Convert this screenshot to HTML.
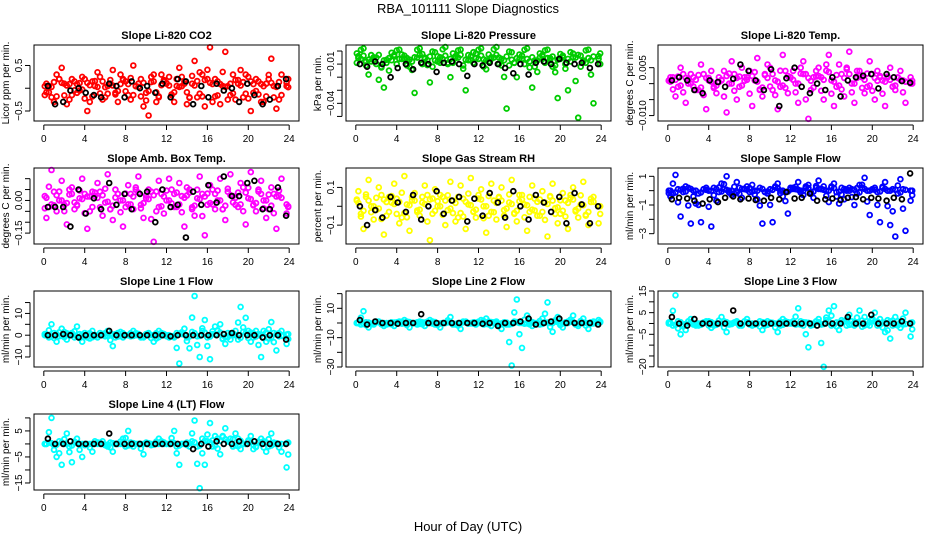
<!DOCTYPE html>
<html><head><meta charset="utf-8"><style>
body{margin:0;background:#fff;}
svg{display:block;font-family:"Liberation Sans",sans-serif;}
</style></head><body>
<svg id="chart" width="936" height="540" viewBox="0 0 936 540">
<text x="468" y="13" text-anchor="middle" font-size="13">RBA_101111  Slope Diagnostics</text>
<text x="468" y="531" text-anchor="middle" font-size="13">Hour of Day (UTC)</text>
</svg>
<script>
const hoursA=[0.25,0.75,1.25,1.75,2.25,2.75,3.25,3.75,4.25,4.75,5.25,5.75,6.25,6.75,7.25,7.75,8.25,8.75,9.25,9.75,10.25,10.75,11.25,11.75,12.25,12.75,13.25,13.75,14.25,14.75,15.25,15.75,16.25,16.75,17.25,17.75,18.25,18.75,19.25,19.75,20.25,20.75,21.25,21.75,22.25,22.75,23.25,23.75];
const hoursC=[0.1,0.5,1.0,1.5,2.0,2.5,3.0,3.5,4.0,4.5,5.0,5.5,6.0,6.5,7.0,7.5,8.0,8.5,9.0,9.5,10.0,10.5,11.0,11.5,12.0,12.5,13.0,13.5,14.0,14.5,15.0,15.5,16.0,16.5,17.0,17.5,18.0,18.5,19.0,19.5,20.0,20.5,21.0,21.5,22.0,22.5,23.0,23.9];
const hoursB=[0.4,1.1,1.9,2.6,3.4,4.1,4.9,5.6,6.4,7.1,7.9,8.6,9.4,10.1,10.9,11.6,12.4,13.1,13.9,14.6,15.4,16.1,16.9,17.6,18.4,19.1,19.9,20.6,21.4,22.1,22.9,23.7];
const xTicks=[0,4,8,12,16,20,24];

const co2Spread=[0.1,-0.2,0.3,0.45,-0.35,0.2,-0.1,0.25,-0.5,0.15,0.35,-0.25,0.05,0.4,-0.3,0.2,-0.15,0.5,0.1,-0.4,-0.6,0.3,-0.2,0.15,0.25,-0.3,0.45,0.1,-0.2,0.6,0.35,-0.4,0.9,0.2,-0.35,0.8,0.1,-0.25,0.4,0.3,-0.5,0.2,-0.3,0.1,0.65,-0.45,0.3,0.05];
const co2Band=[-0.15,0.05,-0.3,0.2,0.1,-0.25,0.15,-0.05,0.2,-0.3,0.05,0.25,-0.2,0.1,-0.1,0.3,0.15,-0.25,0.05,0.2,-0.1,0.25,-0.3,0.3,0.1,-0.15,0.05,0.25,-0.35,0.1,-0.2,0.3,0.2,-0.3,0.15,0.05,-0.25,0.3,0.1,-0.2,0.25,-0.1,0.15,-0.3,0.2,0.05,-0.25,0.2];
const co2Black=[0.05,-0.35,-0.3,-0.05,0,-0.1,-0.15,-0.2,0.1,0.05,-0.2,0.15,0,0.05,-0.1,0.1,-0.2,0.2,0.15,-0.35,0.05,-0.2,0.1,-0.05,0,-0.3,0.1,-0.15,-0.35,-0.25,0.05,0.2];

const presSpread=[-0.004,0.002,-0.018,-0.007,-0.022,-0.028,-0.015,-0.003,0.001,-0.006,-0.012,-0.032,0.002,-0.005,-0.024,-0.001,-0.009,0.003,-0.02,-0.004,0.001,-0.03,-0.007,-0.002,0.002,-0.014,-0.006,0.003,-0.011,-0.044,-0.001,-0.02,-0.006,0.002,-0.028,-0.016,-0.004,0.001,-0.012,-0.036,-0.005,-0.03,-0.002,-0.051,-0.008,0.001,-0.04,-0.004];
const presBand=[-0.009,-0.006,-0.011,-0.008,-0.005,-0.012,-0.009,-0.007,-0.01,-0.006,-0.011,-0.008,-0.005,-0.01,-0.007,-0.012,-0.008,-0.006,-0.01,-0.009,-0.005,-0.011,-0.007,-0.009,-0.006,-0.012,-0.008,-0.005,-0.01,-0.007,-0.011,-0.009,-0.006,-0.01,-0.008,-0.012,-0.005,-0.009,-0.007,-0.011,-0.006,-0.01,-0.008,-0.005,-0.012,-0.009,-0.007,-0.01];
const presBlack=[-0.01,-0.012,-0.008,-0.01,-0.02,-0.013,-0.01,-0.014,-0.009,-0.01,-0.016,-0.009,-0.008,-0.01,-0.019,-0.01,-0.011,-0.009,-0.01,-0.013,-0.017,-0.01,-0.018,-0.009,-0.008,-0.01,-0.006,-0.009,-0.01,-0.009,-0.013,-0.01];

const tempSpread=[0.002,-0.004,0.005,-0.006,0.003,-0.002,0.006,-0.008,0.004,-0.003,0.001,-0.009,0.007,-0.005,0.005,0.002,-0.007,0.008,-0.004,0.006,-0.002,-0.008,0.009,-0.003,0.004,-0.006,0.007,-0.011,0.002,0.005,-0.005,0.009,-0.007,0.006,-0.004,0.01,-0.006,0.004,-0.003,0.007,-0.005,0.002,-0.007,0.005,-0.002,0.004,-0.006,0.002];
const tempBand=[0.001,0.002,-0.001,0.003,0.0,0.002,-0.002,0.003,0.001,-0.001,0.002,0.004,0.0,0.003,-0.001,0.002,0.004,0.001,-0.002,0.003,0.005,0.001,-0.001,0.004,0.002,0.0,0.005,0.003,-0.002,0.004,0.002,0.006,0.001,-0.001,0.003,0.005,0.0,0.004,0.002,-0.001,0.003,0.004,0.001,0.002,-0.001,0.002,0.001,0.0];
const tempBlack=[0.001,0.002,0.001,-0.002,-0.003,0.001,0.0005,-0.001,0.0015,0.006,0.004,0.001,-0.002,0.0045,-0.007,0.0017,0.005,-0.001,-0.003,0.0,-0.002,0.002,-0.004,0.001,0.002,0.0025,0.003,-0.0015,0.003,0.002,0.0008,0.0003];

const boxSpread=[-0.08,0.14,-0.05,0.09,-0.11,0.06,-0.02,0.1,-0.13,0.04,0.08,-0.07,0.12,-0.09,0.03,-0.12,0.07,-0.04,0.11,-0.08,0.05,-0.19,0.09,-0.06,0.1,-0.03,0.08,-0.12,0.05,-0.07,0.11,-0.16,0.07,-0.04,0.1,-0.09,0.12,-0.02,0.08,-0.11,0.13,-0.05,0.09,-0.08,0.06,-0.13,0.1,-0.06];
const boxBand=[0.02,-0.03,0.04,0.0,-0.02,0.05,-0.04,0.01,0.03,-0.05,0.02,0.04,-0.01,-0.04,0.05,0.0,-0.03,0.03,0.06,-0.02,0.01,0.04,-0.05,0.03,0.0,0.05,-0.03,0.02,0.06,-0.04,0.01,0.03,-0.02,0.05,0.0,-0.04,0.04,0.02,-0.03,0.06,0.01,-0.02,0.05,0.0,-0.04,0.03,0.02,-0.03];
const boxBlack=[-0.03,-0.03,-0.03,-0.12,0.05,-0.06,0.01,-0.04,0.08,-0.02,0.03,-0.04,0.03,0.04,-0.1,0.05,-0.03,-0.02,-0.17,0.04,-0.02,0.07,-0.01,0.11,0.02,0.02,0.08,0.09,-0.04,-0.04,0.06,-0.07];

const rhSpread=[0.08,-0.12,0.14,-0.07,0.1,-0.15,0.05,0.12,-0.09,0.16,-0.13,0.07,-0.05,0.11,-0.18,0.09,0.06,-0.1,0.13,-0.08,0.11,-0.12,0.15,-0.06,0.09,-0.14,0.12,-0.07,0.1,-0.11,0.14,-0.08,0.06,-0.13,0.11,-0.05,0.08,-0.16,0.12,-0.09,0.07,-0.12,0.1,-0.06,0.13,-0.1,0.05,-0.09];
const rhBand=[0.03,-0.04,0.05,0.0,-0.02,0.06,-0.05,0.02,0.04,-0.06,0.01,0.05,-0.03,0.02,0.06,-0.04,0.0,0.05,-0.02,0.03,-0.06,0.04,0.01,-0.03,0.06,0.0,-0.05,0.03,0.05,-0.02,0.02,-0.04,0.06,0.01,-0.03,0.04,-0.05,0.02,0.05,-0.01,-0.04,0.03,0.06,-0.02,0.01,-0.05,0.04,0.0];
const rhBlack=[0.0,-0.1,-0.02,-0.06,0.05,0.02,-0.03,0.06,-0.07,0.0,0.08,-0.04,0.03,0.05,-0.08,0.04,-0.05,0.07,0.02,-0.06,0.08,0.0,-0.07,0.06,0.02,-0.03,0.05,-0.09,0.07,0.01,-0.09,0.0];

const sampSpread=[-0.4,1.1,-1.8,0.3,-2.3,-0.9,-2.2,0.2,-2.5,-0.7,0.5,1.0,-0.3,0.6,-0.5,0.3,0.4,-0.6,-2.3,-0.2,-2.2,0.5,-0.4,-1.6,0.2,0.6,-0.3,0.4,-0.5,0.7,0.3,-0.8,0.5,-0.9,-0.6,0.2,-1.0,0.4,0.9,-1.7,0.2,-2.2,0.6,-2.4,-3.2,0.8,-2.8,-0.7];
const sampBand=[0.0,-0.2,0.1,-0.1,0.2,0.0,-0.2,0.1,0.0,0.2,-0.1,0.1,0.0,-0.2,0.2,0.1,-0.1,0.0,0.2,-0.1,0.1,0.3,0.0,-0.1,0.2,0.1,0.0,0.3,-0.1,0.2,0.1,0.0,0.3,-0.1,0.2,0.0,0.1,-0.2,0.2,0.0,0.1,-0.1,0.2,0.0,0.1,-0.2,0.1,0.0];
const sampBlack=[-0.6,-0.5,-0.55,-0.7,-0.9,-0.6,-0.8,-0.5,-0.4,-0.6,-0.55,-0.65,-0.7,-0.5,-0.6,-0.1,-0.55,-0.5,-0.2,-0.7,-0.6,-0.55,-0.65,-0.5,-0.45,-0.6,-0.5,-0.55,-0.7,-0.5,-0.6,1.2];

const l1Spread=[0,5,-3,3,-2,1,4,-3,-1,2,-1,0,2,-5,1,-1,0,2,0,-1,1,-3,2,0,-1,-1,-13,3,-6,18,-10,7,-11,4,5,-4,-2,2,13,8,-3,2,-10,-3,6,-7,2,-4];
const l1Band=[0.5,-1,1,-0.5,1.5,0,-1,0.5,1,-1.5,0,1,-0.5,0.5,-1,1.5,0,-0.5,1,-1,0.5,0,-1.5,1,0,-0.5,1,0.5,-1,1.5,-0.5,2,-1,0.5,2,-1.5,1,0,-2,1.5,2,-1,0.5,2,-1.5,1,-0.5,0.5];
const l1Black=[0,0,0.5,0,-1,0,0,0,2,0,0,0,0,0,0,0,-0.5,0,0,0,0,0,0,0.5,1,0,0,0,-1,0,0,-2];

const l2Spread=[0,8,-3,-1,1,-2,0,-2,1,2,-3,0,1,-2,2,-1,-3,0,4,-1,-4,1,0,-1,2,3,-2,1,-4,-1,-29,16,-17,5,-2,0,3,14,-6,4,-3,1,5,-2,3,-4,1,2];
const l2Band=[0,-1,0.5,-0.5,1,0,-1,0.5,0,-0.5,1,0,-1,0.5,0,1,-0.5,0,0.5,-1,0,1,-0.5,0.5,0,-1,1,0,-0.5,0.5,-1,1,0,-0.5,1,0,-1,0.5,0,1,-0.5,0,1,-1,0.5,0,-0.5,0.5];
const l2Black=[2,-1,1,0,0,-0.5,0,0,6,0,0,0,0,0,0,0,-0.5,0,-2,0,0,1,3,-1,0,1,3,0,0,0,0,-1];

const l3Spread=[0,13,-5,-3,2,-1,0,1,-2,0,3,-4,0,1,-1,2,-1,0,-3,1,0,-4,2,0,1,7,-1,-11,0,2,-20,6,8,-3,1,4,-1,6,3,-1,5,2,-4,-7,3,-2,5,-6];
const l3Band=[0.5,-1,1,-0.5,1,0,-1,0.5,1,-1,0,1,-0.5,0.5,-1,1,0,-0.5,1,-1,0.5,0,-1,1,0,-0.5,1,0.5,-1,1,-0.5,1.5,-1,0.5,1.5,-1,1,0,-1.5,1,1.5,-1,0.5,1.5,-1,1,-0.5,0.5];
const l3Black=[3,0,-1,2,0,0,0,0,6,0,0,0,0,0,0,0,0,0,0,-1,0,0,0,3,0,0,4,0,0,0,1,0];

const l4Spread=[0,10,-5,-8,4,-7,2,-5,0,-3,0,1,-1,-3,0,2,5,-1,0,-4,0,0,2,0,0,5,-8,0,-1,9,-17,-8,8,3,-4,6,2,4,-2,0,3,-1,2,-3,4,0,-3,-9];
const l4Band=[0,0.5,-0.5,1,0,-1,0.5,0,-0.5,0,1,0,-0.5,0.5,0,0,-1,0.5,0,0,0.5,-0.5,0,1,0,0.5,-1,0,0.5,1,-1,2,1,-1,2,3,1,-1,2,0,1,-2,0.5,1,-1,0.5,0,0.5];
const l4Black=[2,0,0,1,0,0,0,0,4,0,0,0,0,0,0,0,0,0,0,-2,0,-1,1,0,0,1,0,1,0,0,0,0];

const panels=[
 {title:"Slope Li-820 CO2",ylab:"Licor ppm per min.",col:"#ff0000",dom:[-0.72,0.95],ticks:[-0.5,0,0.5],labs:["\u22120.5","","0.5"],s:co2Spread,b:co2Band,k:co2Black,name:"co2"},
 {title:"Slope Li-820 Pressure",ylab:"kPa per min.",col:"#00cc00",dom:[-0.0535,0.0046],ticks:[-0.05,-0.04,-0.03,-0.02,-0.01,0],labs:["","\u22120.04","","","\u22120.01",""],s:presSpread,b:presBand,k:presBlack,name:"pressure"},
 {title:"Slope Li-820 Temp.",ylab:"degrees C per min.",col:"#ff00ff",dom:[-0.0117,0.0121],ticks:[-0.01,-0.005,0,0.005],labs:["\u22120.010","","","0.005"],s:tempSpread,b:tempBand,k:tempBlack,name:"li820-temp"},
 {title:"Slope Amb. Box Temp.",ylab:"degrees C per min.",col:"#ff00ff",dom:[-0.2,0.149],ticks:[-0.15,-0.1,-0.05,0,0.05,0.1],labs:["\u22120.15","","","0.00","",""],s:boxSpread,b:boxBand,k:boxBlack,name:"box-temp"},
 {title:"Slope Gas Stream RH",ylab:"percent per min.",col:"#ffff00",dom:[-0.2,0.203],ticks:[-0.1,0,0.1],labs:["\u22120.1","","0.1"],s:rhSpread,b:rhBand,k:rhBlack,name:"rh"},
 {title:"Slope Sample Flow",ylab:"ml/min per min.",col:"#0000ff",dom:[-3.72,1.58],ticks:[-3,-2,-1,0,1],labs:["\u22123","","\u22121","","1"],s:sampSpread,b:sampBand,k:sampBlack,name:"sample-flow"},
 {title:"Slope Line 1 Flow",ylab:"ml/min per min.",col:"#00ffff",dom:[-14.6,20.3],ticks:[-10,-5,0,5,10,15],labs:["\u221210","","0","","10",""],s:l1Spread,b:l1Band,k:l1Black,name:"line1-flow"},
 {title:"Slope Line 2 Flow",ylab:"ml/min per min.",col:"#00ffff",dom:[-30,21.8],ticks:[-30,-20,-10,0,10,20],labs:["\u221230","","\u221210","","10",""],s:l2Spread,b:l2Band,k:l2Black,name:"line2-flow"},
 {title:"Slope Line 3 Flow",ylab:"ml/min per min.",col:"#00ffff",dom:[-20.1,15],ticks:[-20,-15,-10,-5,0,5,10,15],labs:["\u221220","","","\u22125","","5","","15"],s:l3Spread,b:l3Band,k:l3Black,name:"line3-flow"},
 {title:"Slope Line 4 (LT) Flow",ylab:"ml/min per min.",col:"#00ffff",dom:[-17.7,11.5],ticks:[-15,-10,-5,0,5,10],labs:["\u221215","","\u22125","","5",""],s:l4Spread,b:l4Band,k:l4Black,name:"line4-flow"}
];
const colLeft=[34,346,658], rowTop=[45,168,291,414], W=265, H=76;
const NS="http://www.w3.org/2000/svg";
const svg=document.getElementById('chart');
function mk(tag,attrs,parent){const e=document.createElementNS(NS,tag);for(const k in attrs)e.setAttribute(k,attrs[k]);(parent||svg).appendChild(e);return e;}
panels.forEach((p,i)=>{
  const L=colLeft[i%3], T=rowTop[Math.floor(i/3)];
  const g=mk('g',{});
  
  
  const xs=h=>L+(h+0.96)/25.92*W;
  const ys=v=>T+H-(v-p.dom[0])/(p.dom[1]-p.dom[0])*H;
  const t=mk('text',{x:L+W/2,y:T-6,'text-anchor':'middle','font-size':11,'font-weight':'bold'},g);t.textContent=p.title;
  
  
  const yl=mk('text',{x:0,y:0,transform:`translate(${L-25},${T+H/2}) rotate(-90)`,'text-anchor':'middle','font-size':10},g);yl.textContent=p.ylab;
  
  
  const pts=mk('g',{fill:'none','stroke-width':1.8},g);
  
  
  function dot(h,v,c){const e=mk('circle',{cx:xs(h).toFixed(1),cy:ys(v).toFixed(1),r:2.4,stroke:c},pts);
    
    }
  p.s.forEach((v,j)=>dot(hoursA[j],v,p.col));
  p.s.forEach((v,j)=>dot(hoursC[j],v*0.45,p.col));
  p.b.forEach((v,j)=>dot(hoursC[j],v,p.col));
  p.b.forEach((v,j)=>dot(hoursA[j],v*0.6,p.col));
  p.k.forEach((v,j)=>dot(hoursB[j],v,'#000'));
  const box=mk('rect',{x:L,y:T,width:W,height:H,fill:'none',stroke:'#000','stroke-width':1},g);
  
  
  const ax=mk('g',{stroke:'#000','stroke-width':1},g);
  
  
  xTicks.forEach(h=>{const x=xs(h);mk('line',{x1:x,x2:x,y1:T+H+4,y2:T+H+9},ax);
    const tl=mk('text',{x:x,y:T+H+21,'text-anchor':'middle','font-size':10,stroke:'none'},ax);tl.textContent=h;
    
    });
  mk('line',{x1:xs(0),x2:xs(24),y1:T+H+4,y2:T+H+4},ax);
  const ay=mk('g',{stroke:'#000','stroke-width':1},g);
  
  
  mk('line',{x1:L-4,x2:L-4,y1:ys(p.ticks[0]),y2:ys(p.ticks[p.ticks.length-1])},ay);
  p.ticks.forEach((v,j)=>{const y=ys(v);mk('line',{x1:L-9,x2:L-4,y1:y,y2:y},ay);
    if(p.labs[j]){const tl=mk('text',{x:0,y:0,transform:`translate(${L-12},${y}) rotate(-90)`,'text-anchor':'middle','font-size':10,stroke:'none'},ay);tl.textContent=p.labs[j];
      
      }});
});
</script>
</body></html>
